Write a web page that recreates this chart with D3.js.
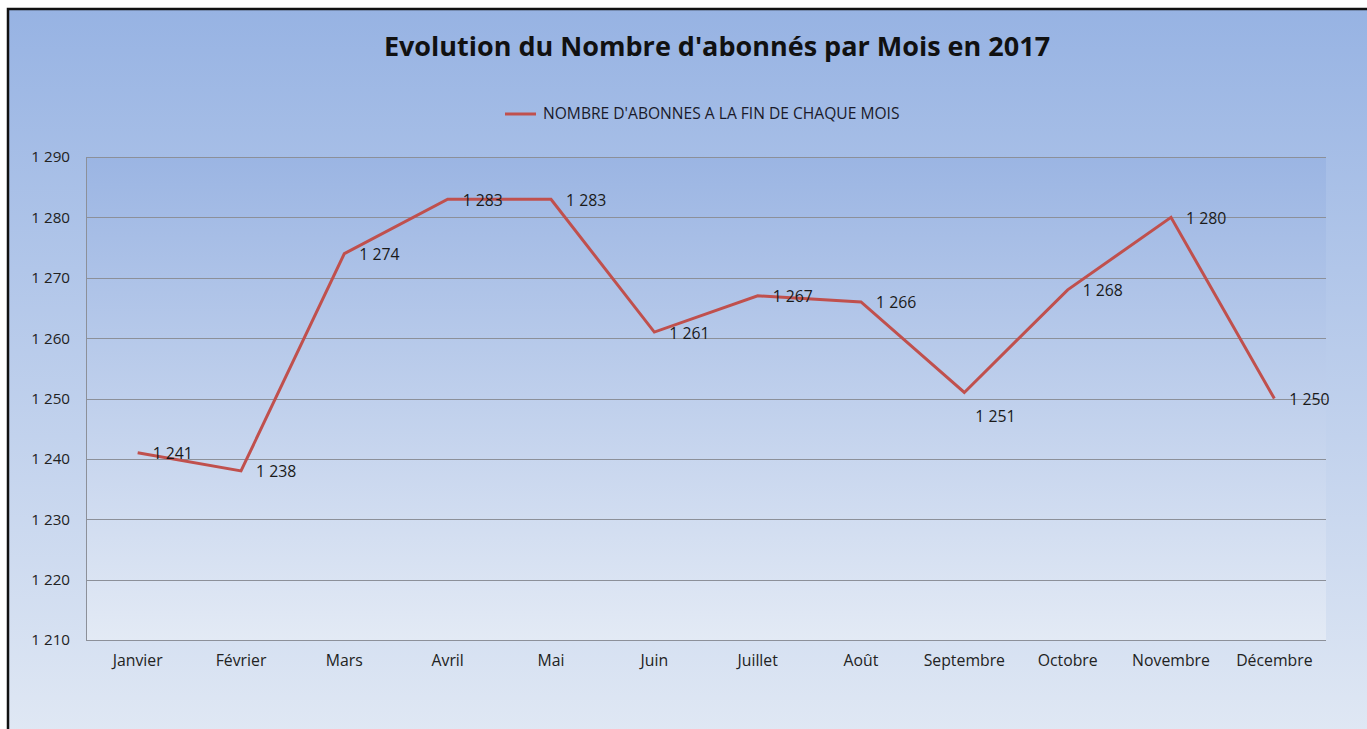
<!DOCTYPE html>
<html>
<head>
<meta charset="utf-8">
<script src="https://d3js.org/d3.v7.min.js"></script>
<style>
  body { margin: 0; background: #fff; }
  svg { display: block; font-family: "Open Sans", Lato, sans-serif; }
</style>
</head>
<body>
<svg id="chart" width="1367" height="729"></svg>
<script>
// Data
const months = ['Janvier', 'Février', 'Mars', 'Avril', 'Mai', 'Juin', 'Juillet', 'Août', 'Septembre', 'Octobre', 'Novembre', 'Décembre'];
const subscribers = [1241, 1238, 1274, 1283, 1283, 1261, 1267, 1266, 1251, 1268, 1280, 1250];
const yTicks = [1210, 1220, 1230, 1240, 1250, 1260, 1270, 1280, 1290];
const seriesName = "NOMBRE D'ABONNES A LA FIN DE CHAQUE MOIS";
const title = "Evolution du Nombre d'abonnés par Mois en 2017";

const svg = d3.select('#chart');
const W = 1367, H = 729;
const plot = { left: 86, top: 157, right: 1326, bottom: 640 };
const FONT = '"Open Sans", Lato, sans-serif';

// Gradients
const defs = svg.append('defs');
const outerGrad = defs.append('linearGradient').attr('id', 'outerGrad')
  .attr('x1', 0).attr('y1', 0).attr('x2', 0).attr('y2', 1);
outerGrad.append('stop').attr('offset', '0%').attr('stop-color', '#97b3e3');
outerGrad.append('stop').attr('offset', '100%').attr('stop-color', '#e0e8f4');
const plotGrad = defs.append('linearGradient').attr('id', 'plotGrad')
  .attr('x1', 0).attr('y1', 0).attr('x2', 0).attr('y2', 1);
plotGrad.append('stop').attr('offset', '0%').attr('stop-color', '#9bb5e3');
plotGrad.append('stop').attr('offset', '100%').attr('stop-color', '#e3eaf5');

// Frame
svg.append('rect').attr('x', 8).attr('y', 9).attr('width', W).attr('height', H)
  .attr('fill', 'url(#outerGrad)').attr('stroke', '#111').attr('stroke-width', 2.5);

svg.append('rect').attr('x', plot.left).attr('y', plot.top)
  .attr('width', plot.right - plot.left).attr('height', plot.bottom - plot.top)
  .attr('fill', 'url(#plotGrad)');

// Scales
const x = d3.scaleBand().domain(months).range([plot.left, plot.right]);
const y = d3.scaleLinear().domain([1210, 1290]).range([plot.bottom, plot.top]);
const cx = d => x(d) + x.bandwidth() / 2;

// Grid
svg.append('g').selectAll('line').data(yTicks).enter().append('line')
  .attr('x1', plot.left).attr('x2', plot.right)
  .attr('y1', d => Math.round(y(d)) + 0.5).attr('y2', d => Math.round(y(d)) + 0.5)
  .attr('stroke', '#8c9099').attr('stroke-width', 1);

// Axes
const fmt = v => d3.format(',')(v).replace(',', ' ');
const yAxis = svg.append('g').attr('transform', `translate(${plot.left},0)`)
  .call(d3.axisLeft(y).tickValues(yTicks).tickFormat(fmt).tickSize(0).tickPadding(16));
yAxis.select('.domain').attr('stroke', '#8c9099');
yAxis.selectAll('text').attr('font-size', 15.2).attr('fill', '#222').attr('font-family', FONT);

const xAxis = svg.append('g').attr('transform', `translate(0,${plot.bottom})`)
  .call(d3.axisBottom(x).tickSize(0).tickPadding(15));
xAxis.select('.domain').remove();
xAxis.selectAll('text').attr('font-size', 15.8).attr('fill', '#222').attr('font-family', FONT);

// Line
const line = d3.line().x((d, i) => cx(months[i])).y(d => y(d));
svg.append('path').datum(subscribers)
  .attr('d', line).attr('fill', 'none')
  .attr('stroke', '#c0504d').attr('stroke-width', 3).attr('stroke-linejoin', 'miter');

// Data labels (Septembre sits below its point)
svg.append('g').selectAll('text').data(subscribers).enter().append('text')
  .attr('x', (d, i) => cx(months[i]) + (i === 8 ? 11 : 15))
  .attr('y', (d, i) => y(d) + (i === 8 ? 24 : 1))
  .attr('dy', '0.35em')
  .attr('font-size', 15.8).attr('fill', '#1a1a1a')
  .text(d => fmt(d));

// Title
svg.append('text').attr('x', 717).attr('y', 47).attr('dy', '0.35em')
  .attr('text-anchor', 'middle').attr('font-size', 27).attr('font-weight', 'bold')
  .attr('fill', '#111').text(title);

// Legend
svg.append('line').attr('x1', 505).attr('x2', 536).attr('y1', 114).attr('y2', 114)
  .attr('stroke', '#c0504d').attr('stroke-width', 3);
svg.append('text').attr('x', 543).attr('y', 114).attr('dy', '0.35em')
  .attr('font-size', 15.6).attr('fill', '#1a1a2a').text(seriesName);
</script>
</body>
</html>
